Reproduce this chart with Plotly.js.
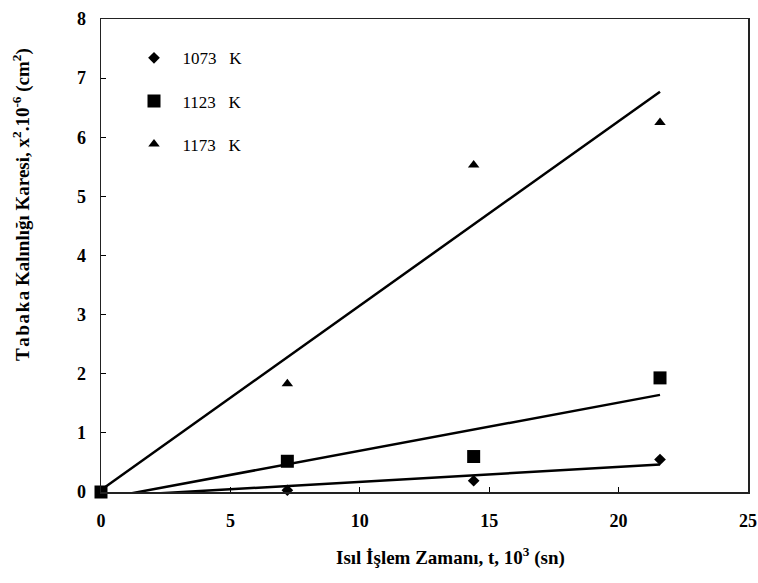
<!DOCTYPE html>
<html>
<head>
<meta charset="utf-8">
<script src="https://cdn.plot.ly/plotly-3.0.1.min.js"></script>
<style>html,body{margin:0;padding:0;background:#fff}#chart{width:758px;height:583px}</style>
</head>
<body>
<div id="chart"></div>
<script>
// Heat treatment time, t (10^3 s)
var timeK = [0, 7.2, 14.4, 21.6];
// Layer thickness squared x^2 (10^-6 cm^2)
var y1073 = [0, 0.03, 0.19, 0.55];
var y1123 = [0, 0.52, 0.60, 1.93];
var y1173 = [0, 1.83, 5.53, 6.25];
var seriesNames = ['\u00a0\u00a01073\u00a0\u00a0\u00a0K', '\u00a0\u00a01123\u00a0\u00a0\u00a0K', '\u00a0\u00a01173\u00a0\u00a0\u00a0K'];
var xTicks = [0, 5, 10, 15, 20, 25];
var yTicks = [0, 1, 2, 3, 4, 5, 6, 7, 8];

function fit(xs, ys) {
  var n = xs.length, mx = 0, my = 0;
  for (var i = 0; i < n; i++) { mx += xs[i]; my += ys[i]; }
  mx /= n; my /= n;
  var sxy = 0, sxx = 0;
  for (var j = 0; j < n; j++) { sxy += (xs[j]-mx)*(ys[j]-my); sxx += (xs[j]-mx)*(xs[j]-mx); }
  var b = sxy / sxx, a = my - b*mx;
  var xe = [xs[0], xs[n-1]];
  return {x: xe, y: xe.map(function(v){return a + b*v;})};
}

var allY = [y1073, y1123, y1173];
var symbols = ['diamond', 'square', 'triangle-up'];
var sizes = [9, 13, 10];
var traces = [];
allY.forEach(function(ys, k) {
  var f = fit(timeK, ys);
  traces.push({x: f.x, y: f.y, mode: 'lines', type: 'scatter', showlegend: false,
    line: {color: '#000', width: 2.5}, hoverinfo: 'skip'});
});
allY.forEach(function(ys, k) {
  traces.push({x: timeK, y: ys, mode: 'markers', type: 'scatter', name: seriesNames[k],
    legendgroup: 'g' + k, cliponaxis: false,
    marker: {symbol: symbols[k], size: sizes[k], color: '#000'}});
});

var serif = 'Liberation Serif, Times New Roman, serif';
var layout = {
  width: 758, height: 583,
  margin: {l: 101, r: 10, t: 19, b: 91},
  paper_bgcolor: '#fff', plot_bgcolor: '#fff',
  showlegend: true,
  legend: {x: 0.051, y: 0.955, xanchor: 'left', yanchor: 'top', bgcolor: 'rgba(0,0,0,0)',
    font: {family: serif, size: 17, color: '#000'}, tracegroupgap: 18, traceorder: 'grouped'},
  xaxis: {range: [0, 25], tickvals: xTicks, ticks: 'inside', ticklen: 5, tickcolor: '#000',
    showgrid: false, zeroline: false, showline: true, linecolor: '#222', linewidth: 1.5, mirror: true,
    ticklabelstandoff: 12,
    tickfont: {family: serif, size: 18, color: '#000', weight: 'bold'}},
  yaxis: {range: [0, 8], tickvals: yTicks, ticks: 'inside', ticklen: 5, tickcolor: '#000',
    showgrid: false, zeroline: false, showline: true, linecolor: '#222', linewidth: 1.5, mirror: true,
    ticklabelstandoff: 10,
    tickfont: {family: serif, size: 18, color: '#000', weight: 'bold'}},
  annotations: [
    {text: 'T\u200aa\u200ab\u200aa\u200ak\u200aa Kalınlığı Karesi, x<sup>2</sup>.10<sup>-6</sup> (cm<sup>2</sup>)',
      xref: 'paper', yref: 'paper', x: -0.122, y: 0.607, textangle: -90, showarrow: false,
      xanchor: 'center', yanchor: 'middle',
      font: {family: serif, size: 19, color: '#000', weight: 'bold'}},
    {text: 'Isıl İşlem Zamanı, t, 10<sup>3</sup> (sn)',
      xref: 'paper', yref: 'paper', x: 0.54, y: -0.137, showarrow: false,
      xanchor: 'center', yanchor: 'middle',
      font: {family: serif, size: 19, color: '#000', weight: 'bold'}}
  ]
};
Plotly.newPlot('chart', traces, layout, {displayModeBar: false, staticPlot: true});
</script>
</body>
</html>
